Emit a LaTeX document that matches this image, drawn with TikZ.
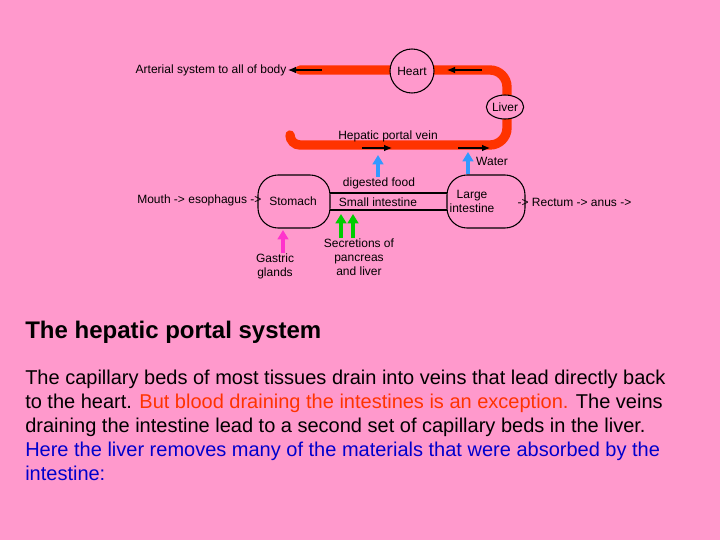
\documentclass[tikz,border=0pt]{standalone}
\usepackage{fontspec}
\setmainfont{Liberation Sans}
\usetikzlibrary{arrows.meta,positioning,shapes.geometric}
\definecolor{bgpink}{RGB}{255,153,204}
\definecolor{vessel}{RGB}{255,51,0}
\definecolor{txtred}{RGB}{255,51,0}
\definecolor{txtblue}{RGB}{0,0,204}
\definecolor{inblue}{RGB}{51,153,255}
\definecolor{ingreen}{RGB}{0,204,0}
\definecolor{inpink}{RGB}{255,51,204}
\tikzset{
  lbl/.style={font=\fontsize{9}{10.5}\selectfont, inner sep=1pt, align=center},
  organ/.style={draw, thick, rounded corners=15pt},
  vein/.style={line width=7pt, color=vessel},
  flow/.style={-{Latex[length=6pt,width=5pt]}, thick},
  supply/.style={-{Triangle[length=7pt,width=8pt]}, line width=2.5pt},
  para/.style={anchor=base west, inner sep=0pt, font=\fontsize{15}{18}\selectfont}
}
\begin{document}
\begin{tikzpicture}[x=0.75pt,y=-0.75pt]
\fill[bgpink] (0,0) rectangle (720,540);
% blood vessel
\draw[vein, line cap=round] (300,70) -- (490,70) arc[start angle=-90,end angle=0,radius=17] -- (507,128)
  arc[start angle=0,end angle=90,radius=17] -- (300,145) arc[start angle=90,end angle=180,radius=10];
\node[draw, thick, circle, fill=bgpink, minimum size=33pt] (heart) at (412,71) {\fontsize{9}{10}\selectfont Heart};
\node[draw, thick, ellipse, fill=bgpink, minimum width=28pt, minimum height=18pt, inner sep=0pt] (liver) at (505,107) {\fontsize{9}{10}\selectfont Liver};
\coordinate (a1) at (322,70);
\node[lbl, anchor=east] (arterial) at (288,70) {Arterial system to all of body};
\draw[flow] (a1) -- (arterial);
\coordinate (b1) at (482,70); \coordinate (b2) at (447,70);
\draw[flow] (b1) -- (b2);
\coordinate (c1) at (362,148); \coordinate (c2) at (392,148);
\draw[flow] (c1) -- (c2);
\coordinate (d1) at (458,148); \coordinate (d2) at (490,148);
\draw[flow] (d1) -- (d2);
\node[lbl] (portal) at (388,136) {Hepatic portal vein};
% gut
\draw[organ] (258,175) rectangle (330,228);
\draw[organ] (447,175) rectangle (525,228);
\node[lbl] (stomach) at (293,201) {Stomach};
\node[lbl] (large) at (472,201) {Large\\intestine};
\draw[thick] (330,193) -- (447,193);
\draw[thick] (330,210) -- (447,210);
\node[lbl] (small) at (378,202) {Small intestine};
\node[lbl] (food) at (379,183) {digested food};
\node[lbl, anchor=east] (mouth) at (263,200) {Mouth -> esophagus ->};
\node[lbl, anchor=west] (rectum) at (516,202) {-> Rectum -> anus ->};
\node[lbl] (water) at (492,161) {Water};
\coordinate (e1) at (378,177); \coordinate (e2) at (378,155);
\draw[supply, inblue] (e1) -- (e2);
\coordinate (f1) at (468,174); \coordinate (f2) at (468,152);
\draw[supply, inblue] (f1) -- (f2);
\node[lbl] (secr) at (359,257) {Secretions of\\pancreas\\and liver};
\coordinate (g1) at (341,238); \coordinate (g2) at (341,214);
\coordinate (h1) at (353,238); \coordinate (h2) at (353,214);
\draw[supply, ingreen] (g1) -- (g2);
\draw[supply, ingreen] (h1) -- (h2);
\node[lbl] (gastric) at (275,266) {Gastric\\glands};
\coordinate (k1) at (283,253); \coordinate (k2) at (283,230);
\draw[supply, inpink] (k1) -- (k2);
% text
\node[para, font=\fontsize{18}{21}\selectfont\bfseries] (title) at (25,338) {The hepatic portal system};
\node[para] (l1) at (25,384) {The capillary beds of most tissues drain into veins that lead directly back};
\node[para] (l2) at (25,408) {to the heart. \textcolor{txtred}{But blood draining the intestines is an exception.} The veins};
\node[para] (l3) at (25,432) {draining the intestine lead to a second set of capillary beds in the liver.};
\node[para, txtblue] (l4) at (25,456) {Here the liver removes many of the materials that were absorbed by the};
\node[para, txtblue] (l5) at (25,480) {intestine:};
\end{tikzpicture}
\end{document}
